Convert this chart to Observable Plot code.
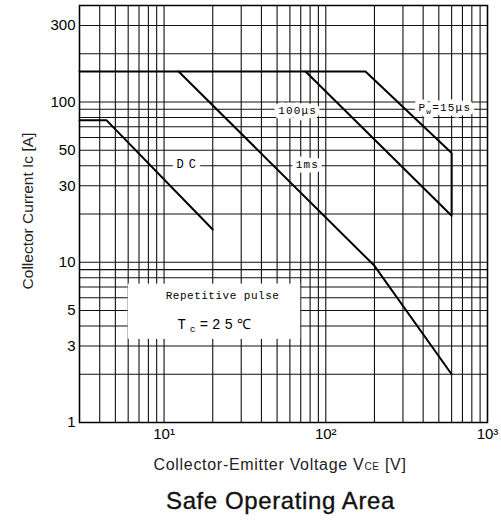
<!DOCTYPE html>
<html><head><meta charset="utf-8">
<script src="https://cdn.jsdelivr.net/npm/d3@7"></script>
<script src="https://cdn.jsdelivr.net/npm/@observablehq/plot@0.6"></script>
<style>
html,body{margin:0;padding:0;background:#fff;}
body{width:501px;height:524px;overflow:hidden;font-family:"Liberation Sans",Arial,sans-serif;}
#chart svg{display:block;}
#title{text-align:center;font-size:24px;line-height:24px;letter-spacing:0.6px;font-weight:normal;color:#111;margin-top:11px;padding-left:60px;font-family:"Liberation Sans",Arial,sans-serif;-webkit-text-stroke:0.35px #111;}
</style></head>
<body><div id="chart"></div><div id="title">Safe Operating Area</div>
<script>
// ---- tick labels ----
const xTicks = [3, 10, 100, 1000];
const xTickLabels = ["3", "10¹", "10²", "10³"];
const yTicks = [1, 3, 5, 10, 30, 50, 100, 300];
const yTickLabels = ["1", "3", "5", "10", "30", "50", "100", "300"];
// ---- graph-paper grid ----
const xGrid = [3,4,5,6,7,8,9,10,20,30,40,50,60,70,80,90,100,200,300,400,500,600,700,800,900,1000];
const yGrid = [1,2,3,4,5,6,7,8,9,10,20,30,40,50,60,70,80,90,100,200,300,400];
// ---- SOA curves (Vce [V], Ic [A]) ----
const pw15V  = [3, 176, 600, 600];
const pw15I  = [155, 155, 48, 20];
const us100V = [75, 600];
const us100I = [155, 19.5];
const ms1V   = [12.3, 200, 600];
const ms1I   = [155, 9.5, 2];
const dcV    = [3, 4.4, 20];
const dcI    = [77, 77, 16];
// ---- curve labels ----
const labelText = ["P_{w}=15μs", "100μs", "1ms", "DC"];
const labelV    = [545, 67, 77, 14.2];
const labelI    = [92, 88, 41, 41];
// ---- note box ----
const noteText = ["Repetitive pulse", "T_{c}=25℃"];
const noteV = [23, 21];
const noteI = [6.2, 4.1];
const noteBoxV = [6.0, 70];
const noteBoxI = [3.3, 7.3];

const mk = (vs, is) => vs.map((v, k) => ({v, i: is[k]}));
const series = [mk(pw15V, pw15I), mk(us100V, us100I), mk(ms1V, ms1I), mk(dcV, dcI)];
const labels = labelText.map((t, k) => ({t, v: labelV[k], i: labelI[k]}));
const notes = noteText.map((t, k) => ({t, v: noteV[k], i: noteI[k]}));
const mono = '"Liberation Mono", monospace';
const narrow = '"Liberation Sans Narrow", "Liberation Sans", Arial, sans-serif';

const svg = Plot.plot({
  width: 501, height: 478,
  marginLeft: 79, marginRight: 14, marginTop: 5, marginBottom: 56,
  style: {fontFamily: '"Liberation Sans", Arial, sans-serif', background: "white"},
  x: {type: "log", domain: [3, 1000]},
  y: {type: "log", domain: [1, 400]},
  marks: [
    Plot.ruleX(xGrid, {stroke: "#111", strokeWidth: 1.1}),
    Plot.ruleY(yGrid, {stroke: "#111", strokeWidth: 1.1}),
    Plot.rect([{}], {x1: () => noteBoxV[0], x2: () => noteBoxV[1], y1: () => noteBoxI[0], y2: () => noteBoxI[1], fill: "white"}),
    ...series.map(s => Plot.line(s, {x: "v", y: "i", stroke: "#000", strokeWidth: 2, strokeLinejoin: "miter"})),
    Plot.text(labels, {x: "v", y: "i", text: "t", fill: "white", stroke: "white", strokeWidth: 9, fontSize: 11, fontFamily: mono, className: "curvelab"}),
    Plot.text(labels, {x: "v", y: "i", text: "t", fill: "#000", fontSize: 11, fontFamily: mono, className: "curvelab"}),
    Plot.text(notes, {x: "v", y: "i", text: "t", fill: "#000", fontSize: 11, fontFamily: mono, className: "notelab"}),
    Plot.frame({stroke: "#000", strokeWidth: 1.5}),
    Plot.axisX(xTicks, {tickSize: 0, tickPadding: 6, fontSize: 15, fontFamily: narrow, tickFormat: d => xTickLabels[xTicks.indexOf(d)], label: null}),
    Plot.axisY(yTicks, {tickSize: 0, tickPadding: 4, fontSize: 15, fontFamily: narrow, tickFormat: d => yTickLabels[yTicks.indexOf(d)], label: null})
  ]
});
document.getElementById("chart").appendChild(svg);

// sub-script rendering for "X_{y}"
function subify(el) {
  const s = el.textContent;
  if (!s.includes("_{")) return;
  const fs = parseFloat(el.getAttribute("font-size")) || parseFloat(getComputedStyle(el).fontSize) || 11;
  el.textContent = "";
  const parts = s.split(/(_\{[^}]*\})/);
  let shifted = false;
  for (const p of parts) {
    if (!p) continue;
    const t = document.createElementNS("http://www.w3.org/2000/svg", "tspan");
    if (p.startsWith("_{")) {
      t.textContent = p.slice(2, -1);
      t.setAttribute("font-size", fs * 0.7);
      t.setAttribute("dy", fs * 0.25);
      shifted = true;
    } else {
      t.textContent = p;
      if (shifted) { t.setAttribute("dy", -fs * 0.25); shifted = false; }
    }
    el.appendChild(t);
  }
}
const sel = d3.select(svg);
sel.selectAll(".curvelab text").each(function() {
  const s = this.textContent;
  const e = d3.select(this).attr("letter-spacing", 1.2);
  if (s === "DC") e.attr("font-size", 12).attr("letter-spacing", 5);
});
sel.selectAll(".notelab text").each(function() {
  if (this.textContent.includes("℃")) d3.select(this).attr("font-size", 14).attr("letter-spacing", 4);
  else d3.select(this).attr("letter-spacing", 0.5);
});
sel.selectAll("text").each(function() { subify(this); });

// axis titles
sel.append("text").attr("x", 280).attr("y", 470).attr("text-anchor", "middle")
  .attr("font-size", 16).attr("letter-spacing", 0.7).attr("fill", "#222")
  .html('Collector-Emitter Voltage V<tspan font-size="10">CE</tspan> [V]');
sel.append("text").attr("transform", "translate(33,211) rotate(-90)").attr("text-anchor", "middle")
  .attr("font-size", 15.5).attr("fill", "#222")
  .text("Collector Current Ic [A]");
</script>
</body></html>
